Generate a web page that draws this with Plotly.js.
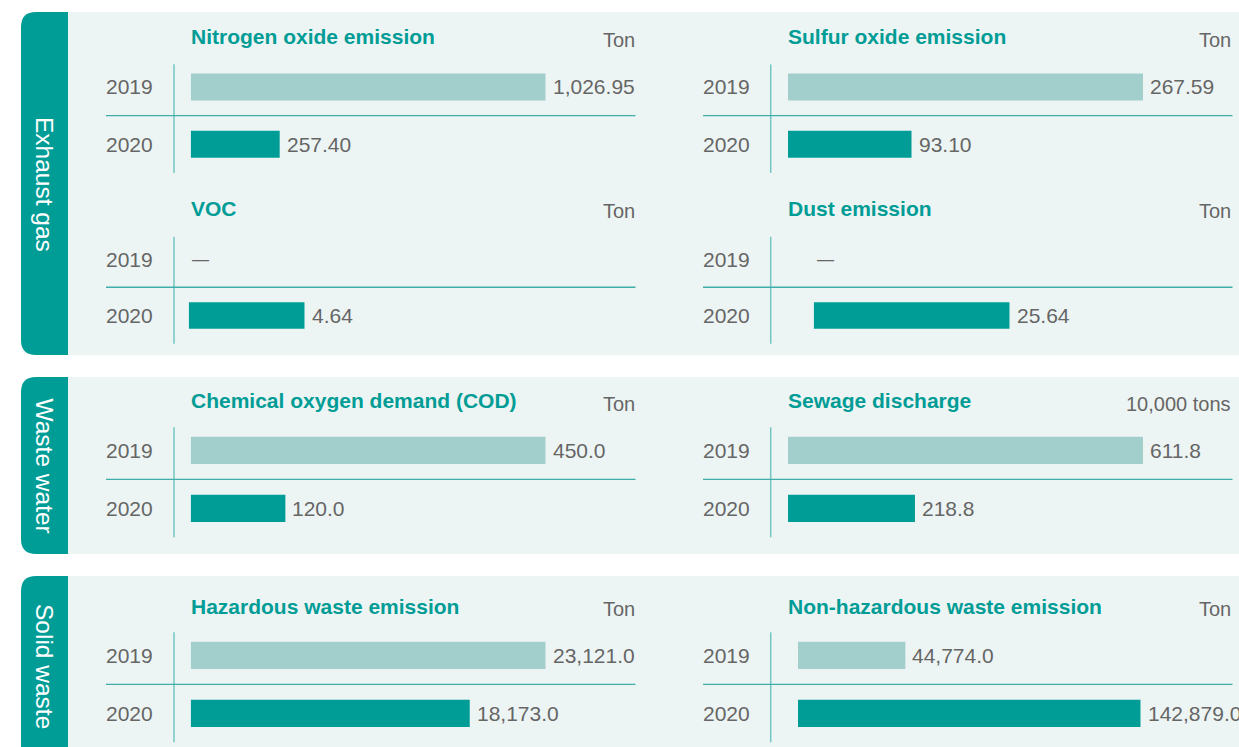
<!DOCTYPE html>
<html>
<head>
<meta charset="utf-8">
<script src="https://cdn.plot.ly/plotly-3.0.1.min.js"></script>
<style>
html,body{margin:0;padding:0;background:#ffffff;overflow:hidden}
#chart{width:1239px;height:747px}
</style>
</head>
<body>
<div id="chart"></div>
<script>
// ---------------- data ----------------
const years = ['2019', '2020'];
const groupNames = ['Exhaust gas', 'Waste water', 'Solid waste'];
const chartTitles = ['Nitrogen oxide emission', 'Sulfur oxide emission', 'VOC', 'Dust emission',
  'Chemical oxygen demand (COD)', 'Sewage discharge', 'Hazardous waste emission', 'Non-hazardous waste emission'];
const chartUnits = ['Ton', 'Ton', 'Ton', 'Ton', 'Ton', '10,000 tons', 'Ton', 'Ton'];
const nitrogenOxide = [1026.95, 257.40];
const sulfurOxide = [267.59, 93.10];
const voc = [null, 4.64];
const dust = [null, 25.64];
const cod = [450.0, 120.0];
const sewage = [611.8, 218.8];
const hazardousWaste = [23121.0, 18173.0];
const nonHazardousWaste = [44774.0, 142879.0];
const valueDecimals = [2, 2, 2, 2, 1, 1, 1, 1];
const seriesValues = [nitrogenOxide, sulfurOxide, voc, dust, cod, sewage, hazardousWaste, nonHazardousWaste];

// ---------------- layout config (pixels) ----------------
const W = 1239, H = 747;
const px = x => x / W;
const py = y => 1 - y / H;
const chartCol = [0, 1, 0, 1, 0, 1, 0, 1];
const chartRow = [0, 0, 1, 1, 2, 2, 3, 3];
const barStartPx = [190.7, 788, 188.7, 813.7, 190.7, 788, 190.7, 798];
const barSpanPx = [355, 355, 116, 196, 355, 355, 355, 342.7];
const rowCenters = [[87, 144.3], [259, 315.5], [450.3, 508.3], [655.3, 713.3]];
const rowTitleY = [37, 208.5, 400.7, 606];
const colYearRight = [155, 752];
const colAxisX = [174, 770.7];
const colSep = [[106, 635.5], [703, 1232.5]];
const colTitleX = [189, 786];
const colUnitRight = [636.5, 1233];
const panels = [[12, 355], [377, 554], [576, 766]];
const panelLabelY = [184.5, 466, 666.5];

const TEAL = '#009C96', LIGHT = '#A2CECB', PANEL = '#EDF5F4', GRAY = '#666666';
const AXISLINE = '#72C6C2', SEPLINE = '#3FAEA9';
const FONT = '"Liberation Sans", Arial, Helvetica, sans-serif';

const traces = [];
const shapes = [];
const annotations = [];
const layout = {
  width: W, height: H,
  margin: {l: 0, r: 0, t: 0, b: 0, pad: 0},
  paper_bgcolor: '#ffffff', plot_bgcolor: 'rgba(0,0,0,0)',
  showlegend: false, bargap: 0.53,
  font: {family: FONT, color: GRAY},
  hovermode: false
};

// panels and tabs
panels.forEach(([t, b], k) => {
  shapes.push({type: 'rect', xref: 'paper', yref: 'paper', layer: 'below',
    x0: px(60), x1: px(1260), y0: py(b), y1: py(t), fillcolor: PANEL, line: {width: 0}});
  const r = 15;
  const path = `M ${px(68)},${py(t)} L ${px(21 + r)},${py(t)} Q ${px(21)},${py(t)} ${px(21)},${py(t + r)} ` +
    `L ${px(21)},${py(b - r)} Q ${px(21)},${py(b)} ${px(21 + r)},${py(b)} L ${px(68)},${py(b)} Z`;
  shapes.push({type: 'path', xref: 'paper', yref: 'paper', layer: 'below', path: path,
    fillcolor: TEAL, line: {width: 0}});
  annotations.push({xref: 'paper', yref: 'paper', x: px(44.5), y: py(panelLabelY[k]),
    text: groupNames[k], textangle: 90, showarrow: false, xanchor: 'center', yanchor: 'middle',
    font: {family: FONT, size: 24.5, color: '#ffffff'}});
});

seriesValues.forEach((vals, i) => {
  const n = i + 1;
  const xa = n === 1 ? 'x' : 'x' + n;
  const ya = n === 1 ? 'y' : 'y' + n;
  const col = chartCol[i], row = chartRow[i];
  traces.push({
    type: 'bar', orientation: 'h', x: vals, y: years, xaxis: xa, yaxis: ya,
    marker: {color: years.map(y => y === '2019' ? LIGHT : TEAL), line: {width: 0}},
    hoverinfo: 'skip', showlegend: false
  });
  const maxV = Math.max(...vals.filter(v => v != null));
  const [c1, c2] = rowCenters[row];
  const half = (c2 - c1) / 2;
  layout[n === 1 ? 'xaxis' : 'xaxis' + n] = {
    domain: [px(barStartPx[i]), px(barStartPx[i] + barSpanPx[i])],
    range: [0, maxV], visible: false, fixedrange: true, anchor: ya
  };
  layout[n === 1 ? 'yaxis' : 'yaxis' + n] = {
    domain: [py(c2 + half), py(c1 - half)], type: 'category',
    categoryorder: 'array', categoryarray: years, range: [1.5, -0.5],
    visible: false, fixedrange: true, anchor: xa
  };
  // vertical axis line
  shapes.push({type: 'line', xref: 'paper', yref: 'paper',
    x0: px(colAxisX[col]), x1: px(colAxisX[col]), y0: py(c2 + half), y1: py(c1 - half + 6),
    line: {color: AXISLINE, width: 1.5}});
  // separator between years
  shapes.push({type: 'line', xref: 'paper', yref: ya,
    x0: px(colSep[col][0]), x1: px(colSep[col][1]), y0: 0.5, y1: 0.5,
    line: {color: SEPLINE, width: 1.3}});
  // title and unit
  annotations.push({xref: 'paper', yref: 'paper', x: px(colTitleX[col]), y: py(rowTitleY[row]),
    xanchor: 'left', yanchor: 'middle', showarrow: false, text: '<b>' + chartTitles[i] + '</b>',
    font: {family: FONT, size: 21, color: TEAL}});
  annotations.push({xref: 'paper', yref: 'paper', x: px(colUnitRight[col]), y: py(rowTitleY[row] + 3),
    xanchor: 'right', yanchor: 'middle', showarrow: false, text: chartUnits[i],
    font: {family: FONT, size: 20, color: GRAY}});
  // year labels and value labels (y given as category index)
  years.forEach((yr, j) => {
    annotations.push({xref: 'paper', yref: ya, x: px(colYearRight[col]), y: j,
      xanchor: 'right', yanchor: 'middle', showarrow: false, text: yr,
      font: {family: FONT, size: 21, color: GRAY}});
    const v = vals[j];
    if (v == null) {
      annotations.push({xref: xa, yref: ya, x: 0, y: j, xanchor: 'left', yanchor: 'middle',
        xshift: 1, showarrow: false, text: '—', font: {family: FONT, size: 17, color: GRAY}});
    } else {
      const txt = v.toLocaleString('en-US', {minimumFractionDigits: valueDecimals[i], maximumFractionDigits: valueDecimals[i]});
      annotations.push({xref: xa, yref: ya, x: v, y: j, xanchor: 'left', yanchor: 'middle',
        xshift: 5, showarrow: false, text: txt, font: {family: FONT, size: 21, color: GRAY}});
    }
  });
});

layout.shapes = shapes;
layout.annotations = annotations;

Plotly.newPlot('chart', traces, layout, {staticPlot: true, displayModeBar: false, responsive: false});
</script>
</body>
</html>
